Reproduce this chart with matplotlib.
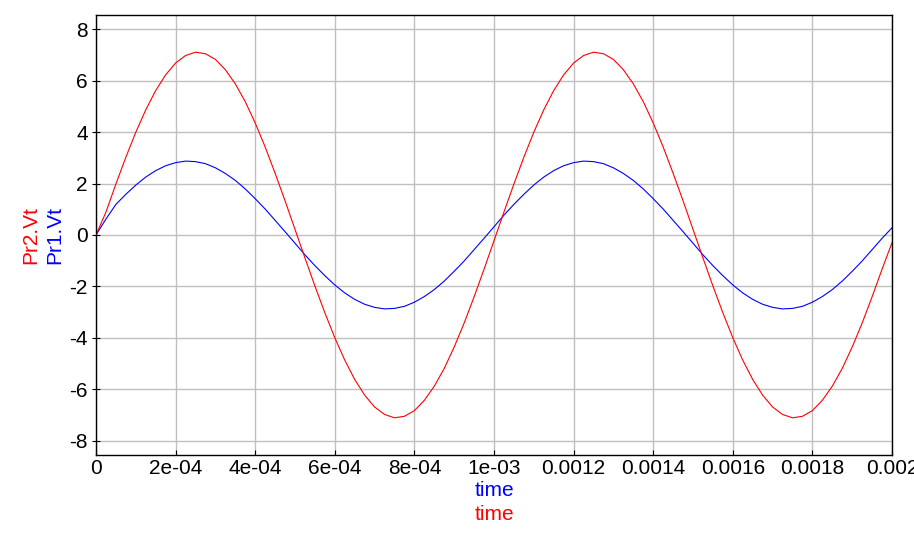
import matplotlib
matplotlib.use('Agg')
import matplotlib.pyplot as plt
import numpy as np

# sample step 25 us
time_step = 25e-6

pr2_vt = [0.00, 0.89, 1.98, 3.02, 3.99, 4.86, 5.61, 6.22, 6.68, 6.97,
          7.10, 7.04, 6.82, 6.42, 5.87, 5.18, 4.35, 3.42, 2.40, 1.33,
          0.22, -0.89, -1.98, -3.02, -3.99, -4.86, -5.61, -6.22, -6.68, -6.97,
          -7.10, -7.04, -6.82, -6.42, -5.87, -5.18, -4.35, -3.42, -2.40, -1.33,
          -0.22, 0.89, 1.98, 3.02, 3.99, 4.86, 5.61, 6.22, 6.68, 6.97,
          7.10, 7.04, 6.82, 6.42, 5.87, 5.18, 4.35, 3.42, 2.40, 1.33,
          0.22, -0.89, -1.98, -3.02, -3.99, -4.86, -5.61, -6.22, -6.68, -6.97,
          -7.10, -7.04, -6.82, -6.42, -5.87, -5.18, -4.35, -3.42, -2.40, -1.33,
          -0.30]

pr1_vt = [0.00, 0.62, 1.19, 1.58, 1.94, 2.25, 2.50, 2.69, 2.81, 2.87,
          2.85, 2.77, 2.61, 2.39, 2.12, 1.79, 1.41, 1.01, 0.57, 0.13,
          -0.32, -0.77, -1.19, -1.58, -1.94, -2.25, -2.50, -2.69, -2.81, -2.87,
          -2.85, -2.77, -2.61, -2.39, -2.12, -1.79, -1.41, -1.01, -0.57, -0.13,
          0.32, 0.77, 1.19, 1.58, 1.94, 2.25, 2.50, 2.69, 2.81, 2.87,
          2.85, 2.77, 2.61, 2.39, 2.12, 1.79, 1.41, 1.01, 0.57, 0.13,
          -0.32, -0.77, -1.19, -1.58, -1.94, -2.25, -2.50, -2.69, -2.81, -2.87,
          -2.85, -2.77, -2.61, -2.39, -2.12, -1.79, -1.41, -1.01, -0.57, -0.13,
          0.28]

x_ticks = [0, 2e-4, 4e-4, 6e-4, 8e-4, 1e-3, 1.2e-3, 1.4e-3, 1.6e-3, 1.8e-3, 2e-3]
x_tick_labels = ['0', '2e-04', '4e-04', '6e-04', '8e-04', '1e-03',
                 '0.0012', '0.0014', '0.0016', '0.0018', '0.002']
y_ticks = [-8, -6, -4, -2, 0, 2, 4, 6, 8]

t = np.arange(len(pr2_vt)) * time_step

plt.rcParams['font.family'] = ['Liberation Sans', 'DejaVu Sans']
plt.rcParams['axes.unicode_minus'] = False

W, H = 914, 560
fig = plt.figure(figsize=(W / 100, H / 100), dpi=100)
ax = fig.add_axes([96 / W, 1 - 455 / H, (892 - 96) / W, (455 - 15) / H])

ax.plot(t, pr1_vt, color='#0000ff', lw=0.8)
ax.plot(t, pr2_vt, color='#ff0000', lw=0.8)

ax.set_xlim(0, 0.002)
ax.set_ylim(-8.544, 8.544)
ax.set_xticks(x_ticks)
ax.set_xticklabels(x_tick_labels)
ax.set_yticks(y_ticks)
ax.grid(True, color='#c0c0c0', lw=1.0)
ax.set_axisbelow(True)

for sp in ax.spines.values():
    sp.set_linewidth(1.0)
    sp.set_color('black')

ax.tick_params(axis='x', direction='in', length=3.6, width=0.8, pad=3, labelsize=15)
ax.tick_params(axis='y', direction='inout', length=5.8, width=0.8, pad=3, labelsize=15)

# axis captions, coloured per trace
fig.text(494 / W, 1 - 490 / H, 'time', color='#0000ff', fontsize=15, ha='center', va='center')
fig.text(494 / W, 1 - 514 / H, 'time', color='#ff0000', fontsize=15, ha='center', va='center')
fig.text(31 / W, 1 - 235 / H, 'Pr2.Vt', color='#ff0000', fontsize=15, rotation=90,
         ha='center', va='center')
fig.text(55 / W, 1 - 235 / H, 'Pr1.Vt', color='#0000ff', fontsize=15, rotation=90,
         ha='center', va='center')

fig.savefig('out.png', dpi=100)
